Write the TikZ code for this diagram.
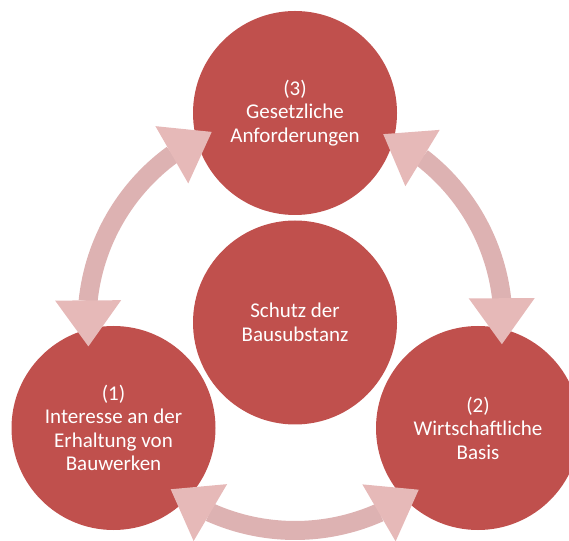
\documentclass[tikz,border=0pt]{standalone}
\usepackage{fontspec}
\setmainfont{Carlito}
\usetikzlibrary{arrows.meta,bending,calc}
\definecolor{circlered}{RGB}{192,80,77}
\definecolor{shaftpink}{RGB}{221,178,178}
\definecolor{headpink}{RGB}{230,185,184}

\begin{document}
\begin{tikzpicture}[
    x=1pt, y=1pt,
    every node/.style={circle, fill=circlered, minimum size=204pt, inner sep=0pt,
        text=white, align=center, font=\fontsize{21}{23.5}\selectfont},
    cyclearrow/.style={draw=shaftpink, line width=19pt,
        >={Triangle[length=46pt, width=66pt, line width=0pt, flex, color=headpink, fill=headpink]}, <->}
]
\useasboundingbox (0,0) rectangle (569,540);

% circles
\node (gesetz) at (295,427) {(3)\\Gesetzliche\\Anforderungen};
\node (schutz) at (295,217.5) {Schutz der\\Bausubstanz};
\node (interesse) at (113.5,112) {(1)\\Interesse an der\\Erhaltung von\\Bauwerken};
\node (wirtschaft) at (478,112) {(2)\\Wirtschaftliche\\Basis};

% arrow ends on a ring round the centre
\coordinate (links) at ($(schutz)+(113.6:208pt)$);
\coordinate (rechts) at ($(schutz)+(64.9:208pt)$);
\coordinate (unten) at ($(schutz)+(233.3:208pt)$);

\draw[cyclearrow] (links) arc[start angle=113.6, end angle=186.6, radius=208pt];
\draw[cyclearrow] (rechts) arc[start angle=64.9, end angle=-6, radius=208pt];
\draw[cyclearrow] (unten) arc[start angle=233.3, end angle=306.5, radius=208pt];
\end{tikzpicture}
\end{document}
